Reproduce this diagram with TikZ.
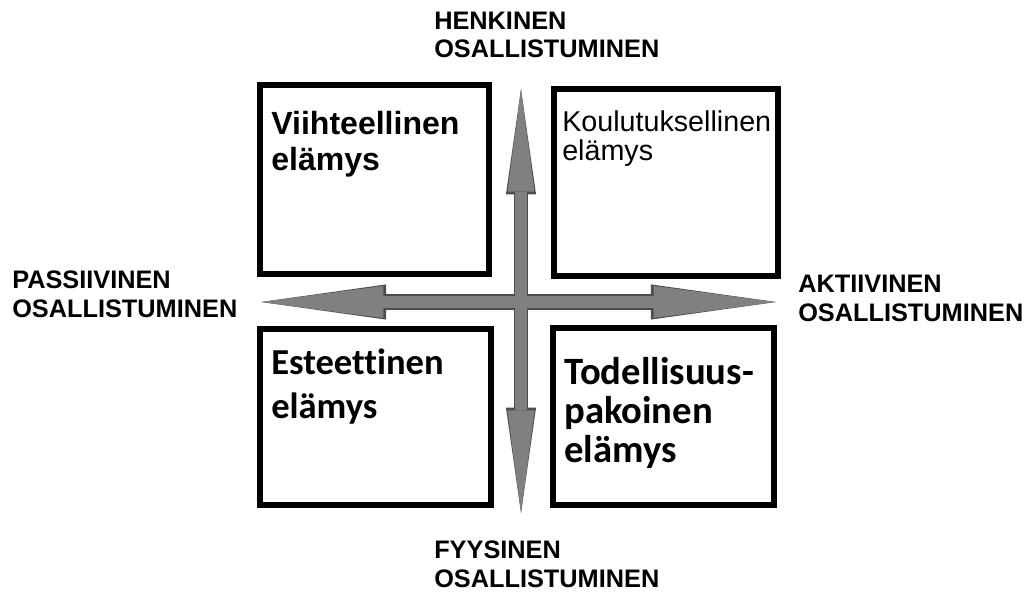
\documentclass[tikz,border=0pt]{standalone}
\usepackage{fontspec}
\usepackage{tikz}
\usetikzlibrary{positioning,arrows.meta}
\newfontfamily\arialfont{Liberation Sans}
\newfontfamily\calibrifont[Ligatures=CommonOff]{Carlito}

\begin{document}
\begin{tikzpicture}[x=0.025cm, y=-0.025cm,
box/.style ={draw, line width=4.3pt, inner sep=0pt},
axislabel/.style ={anchor=base west, inner sep=0pt, align=left, font=\arialfont\bfseries\fontsize{18}{20.5}\selectfont},
boxtext/.style ={anchor=base west, inner sep=0pt, align=left},
hout/.style ={draw=black!70, line width=10.8pt, {Triangle[length=89pt,width=25pt,line width=0pt]}-{Triangle[length=89pt,width=25pt,line width=0pt]}},
hin/.style ={draw=gray, line width=9.2pt, {Triangle[length=87pt,width=22.8pt,line width=0pt]}-{Triangle[length=87pt,width=22.8pt,line width=0pt]}},
vout/.style ={draw=black!70, line width=10.5pt, {Triangle[length=75pt,width=21.4pt,line width=0pt]}-{Triangle[length=75pt,width=21.4pt,line width=0pt]}},
vin/.style ={draw=gray, line width=8.9pt, {Triangle[length=73pt,width=19.2pt,line width=0pt]}-{Triangle[length=73pt,width=19.2pt,line width=0pt]}}]
\useasboundingbox (0,0) rectangle (1035,592);

% the four boxes
\node (V) [box, minimum width=5.725cm, minimum height=4.725cm] at (374.5,179.5) {};
\node (K) [box, minimum width=5.6cm, minimum height=4.675cm] at (666,182.5) {};
\node (E) [box, minimum width=5.775cm, minimum height=4.4cm] at (375.5,417) {};
\node (T) [box, minimum width=5.525cm, minimum height=4.425cm] at (663.5,416.5) {};

% texts, placed at the baseline of their last line
\node [boxtext, font=\arialfont\bfseries\fontsize{22.8}{25.6}\selectfont] at (271,170) {Viihteellinen\\elämys};
\node [boxtext, font=\arialfont\fontsize{20.4}{20}\selectfont] at (562,160) {Koulutuksellinen\\elämys};
\node [boxtext, font=\calibrifont\bfseries\fontsize{26}{30.6}\selectfont] at (271,418) {Esteettinen\\elämys};
\node [boxtext, font=\calibrifont\bfseries\fontsize{27.5}{27.4}\selectfont] at (564,462) {Todellisuus-\\pakoinen\\elämys};

% axes
\coordinate (W) at (261,302);
\coordinate (O) at (776,302);
\coordinate (N) at (521,89);
\coordinate (S) at (521,513);
\draw [vout] (N) -- (S);
\draw [hout] (W) -- (O);
\draw [vin] (N) -- (S);
\draw [hin] (W) -- (O);

\node (H) [axislabel] at (434,58) {HENKINEN\\OSALLISTUMINEN};
\node (F) [axislabel] at (434,587) {FYYSINEN\\OSALLISTUMINEN};
\node (P) [axislabel] at (12,317) {PASSIIVINEN\\OSALLISTUMINEN};
\node (A) [axislabel] at (798,321) {AKTIIVINEN\\OSALLISTUMINEN};
\end{tikzpicture}
\end{document}
